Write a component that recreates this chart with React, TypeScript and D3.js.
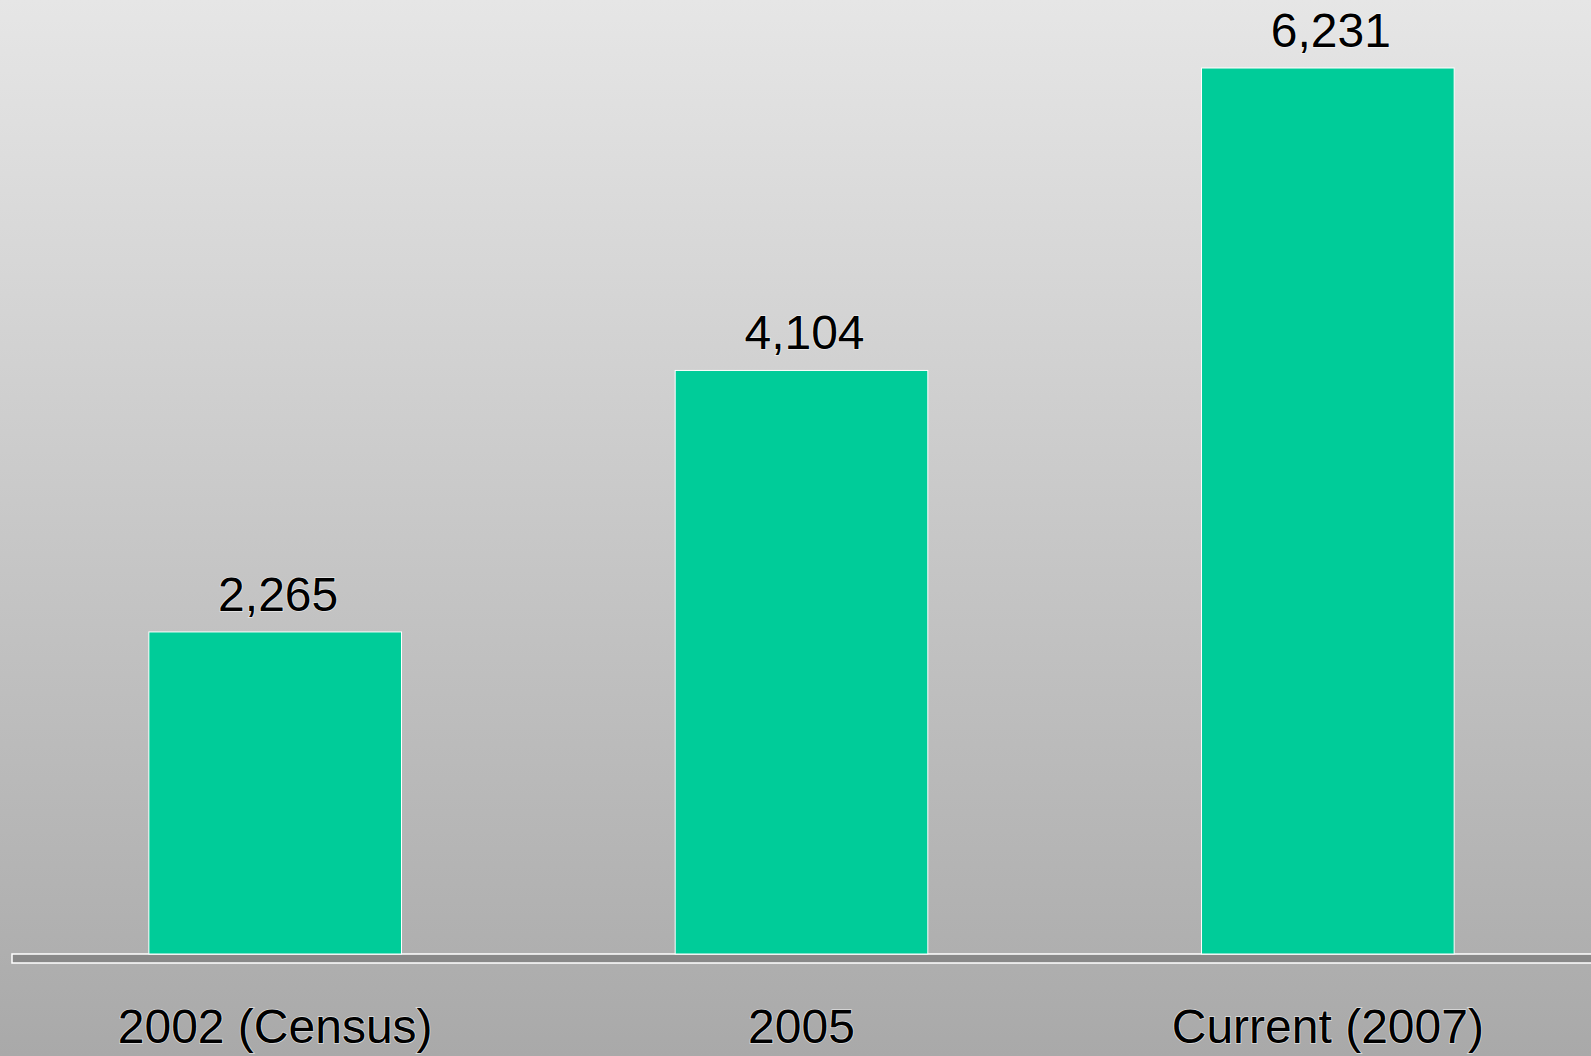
// Bar chart: population counts by year, grey gradient backdrop
import React, { useEffect, useRef } from 'react';
import * as d3 from 'd3';

const categories = ['2002 (Census)', '2005', 'Current (2007)'];
const values = [2265, 4104, 6231];

const WIDTH = 1591;
const HEIGHT = 1056;

const App: React.FC = () => {
  const svgRef = useRef<SVGSVGElement>(null);

  useEffect(() => {
    if (!svgRef.current) return;
    document.body.style.margin = '0';

    const svg = d3.select(svgRef.current);
    svg.selectAll('*').remove();
    svg.attr('viewBox', `0 0 ${WIDTH} ${HEIGHT}`);

    const data = categories.map((c, i) => ({ label: c, value: values[i] }));

    // background gradient
    const defs = svg.append('defs');
    const bg = defs.append('linearGradient')
      .attr('id', 'bg-grad')
      .attr('x1', '0%').attr('y1', '0%')
      .attr('x2', '0%').attr('y2', '100%');
    bg.append('stop').attr('offset', '0%').attr('stop-color', '#e6e6e6');
    bg.append('stop').attr('offset', '100%').attr('stop-color', '#a9a9a9');

    svg.append('rect')
      .attr('width', WIDTH)
      .attr('height', HEIGHT)
      .attr('fill', 'url(#bg-grad)');

    const baseY = 954;

    const x = d3.scaleBand<string>()
      .domain(categories)
      .range([12, WIDTH])
      .paddingInner(0.52)
      .paddingOuter(0.26);

    const y = d3.scaleLinear()
      .domain([0, 6231])
      .range([baseY, 68]);

    // floor
    svg.append('rect')
      .attr('x', 12)
      .attr('y', baseY)
      .attr('width', WIDTH)
      .attr('height', 9)
      .attr('fill', '#898989')
      .attr('stroke', '#ffffff')
      .attr('stroke-width', 1.5);

    // bars
    svg.selectAll('.bar')
      .data(data)
      .enter()
      .append('rect')
      .attr('class', 'bar')
      .attr('x', (d) => x(d.label)!)
      .attr('y', (d) => y(d.value))
      .attr('width', x.bandwidth())
      .attr('height', (d) => baseY - y(d.value))
      .attr('fill', '#00cc99')
      .attr('stroke', '#ffffff')
      .attr('stroke-width', 1);

    const fmt = d3.format(',');
    const font = '"Liberation Sans", Arial, sans-serif';

    // value labels
    svg.selectAll('.val')
      .data(data)
      .enter()
      .append('text')
      .attr('class', 'val')
      .attr('x', (d) => x(d.label)! + x.bandwidth() / 2 + 3)
      .attr('y', (d) => y(d.value) - 21)
      .attr('text-anchor', 'middle')
      .attr('font-family', font)
      .attr('font-size', 48)
      .attr('fill', '#000')
      .attr('stroke', 'rgba(255,255,255,0.6)')
      .attr('stroke-width', 1.5)
      .attr('paint-order', 'stroke')
      .text((d) => fmt(d.value));

    // category labels
    svg.selectAll('.cat')
      .data(data)
      .enter()
      .append('text')
      .attr('class', 'cat')
      .attr('x', (d) => x(d.label)! + x.bandwidth() / 2)
      .attr('y', 1043)
      .attr('text-anchor', 'middle')
      .attr('font-family', font)
      .attr('font-size', 48)
      .attr('fill', '#000')
      .attr('stroke', 'rgba(255,255,255,0.6)')
      .attr('stroke-width', 1.5)
      .attr('paint-order', 'stroke')
      .text((d) => d.label);
  }, []);

  return (
    <div style={{ position: 'absolute', left: 0, top: 0, width: WIDTH, height: HEIGHT, overflow: 'hidden' }}>
      <svg ref={svgRef} width={WIDTH} height={HEIGHT} style={{ display: 'block' }} />
    </div>
  );
};

export default App;
